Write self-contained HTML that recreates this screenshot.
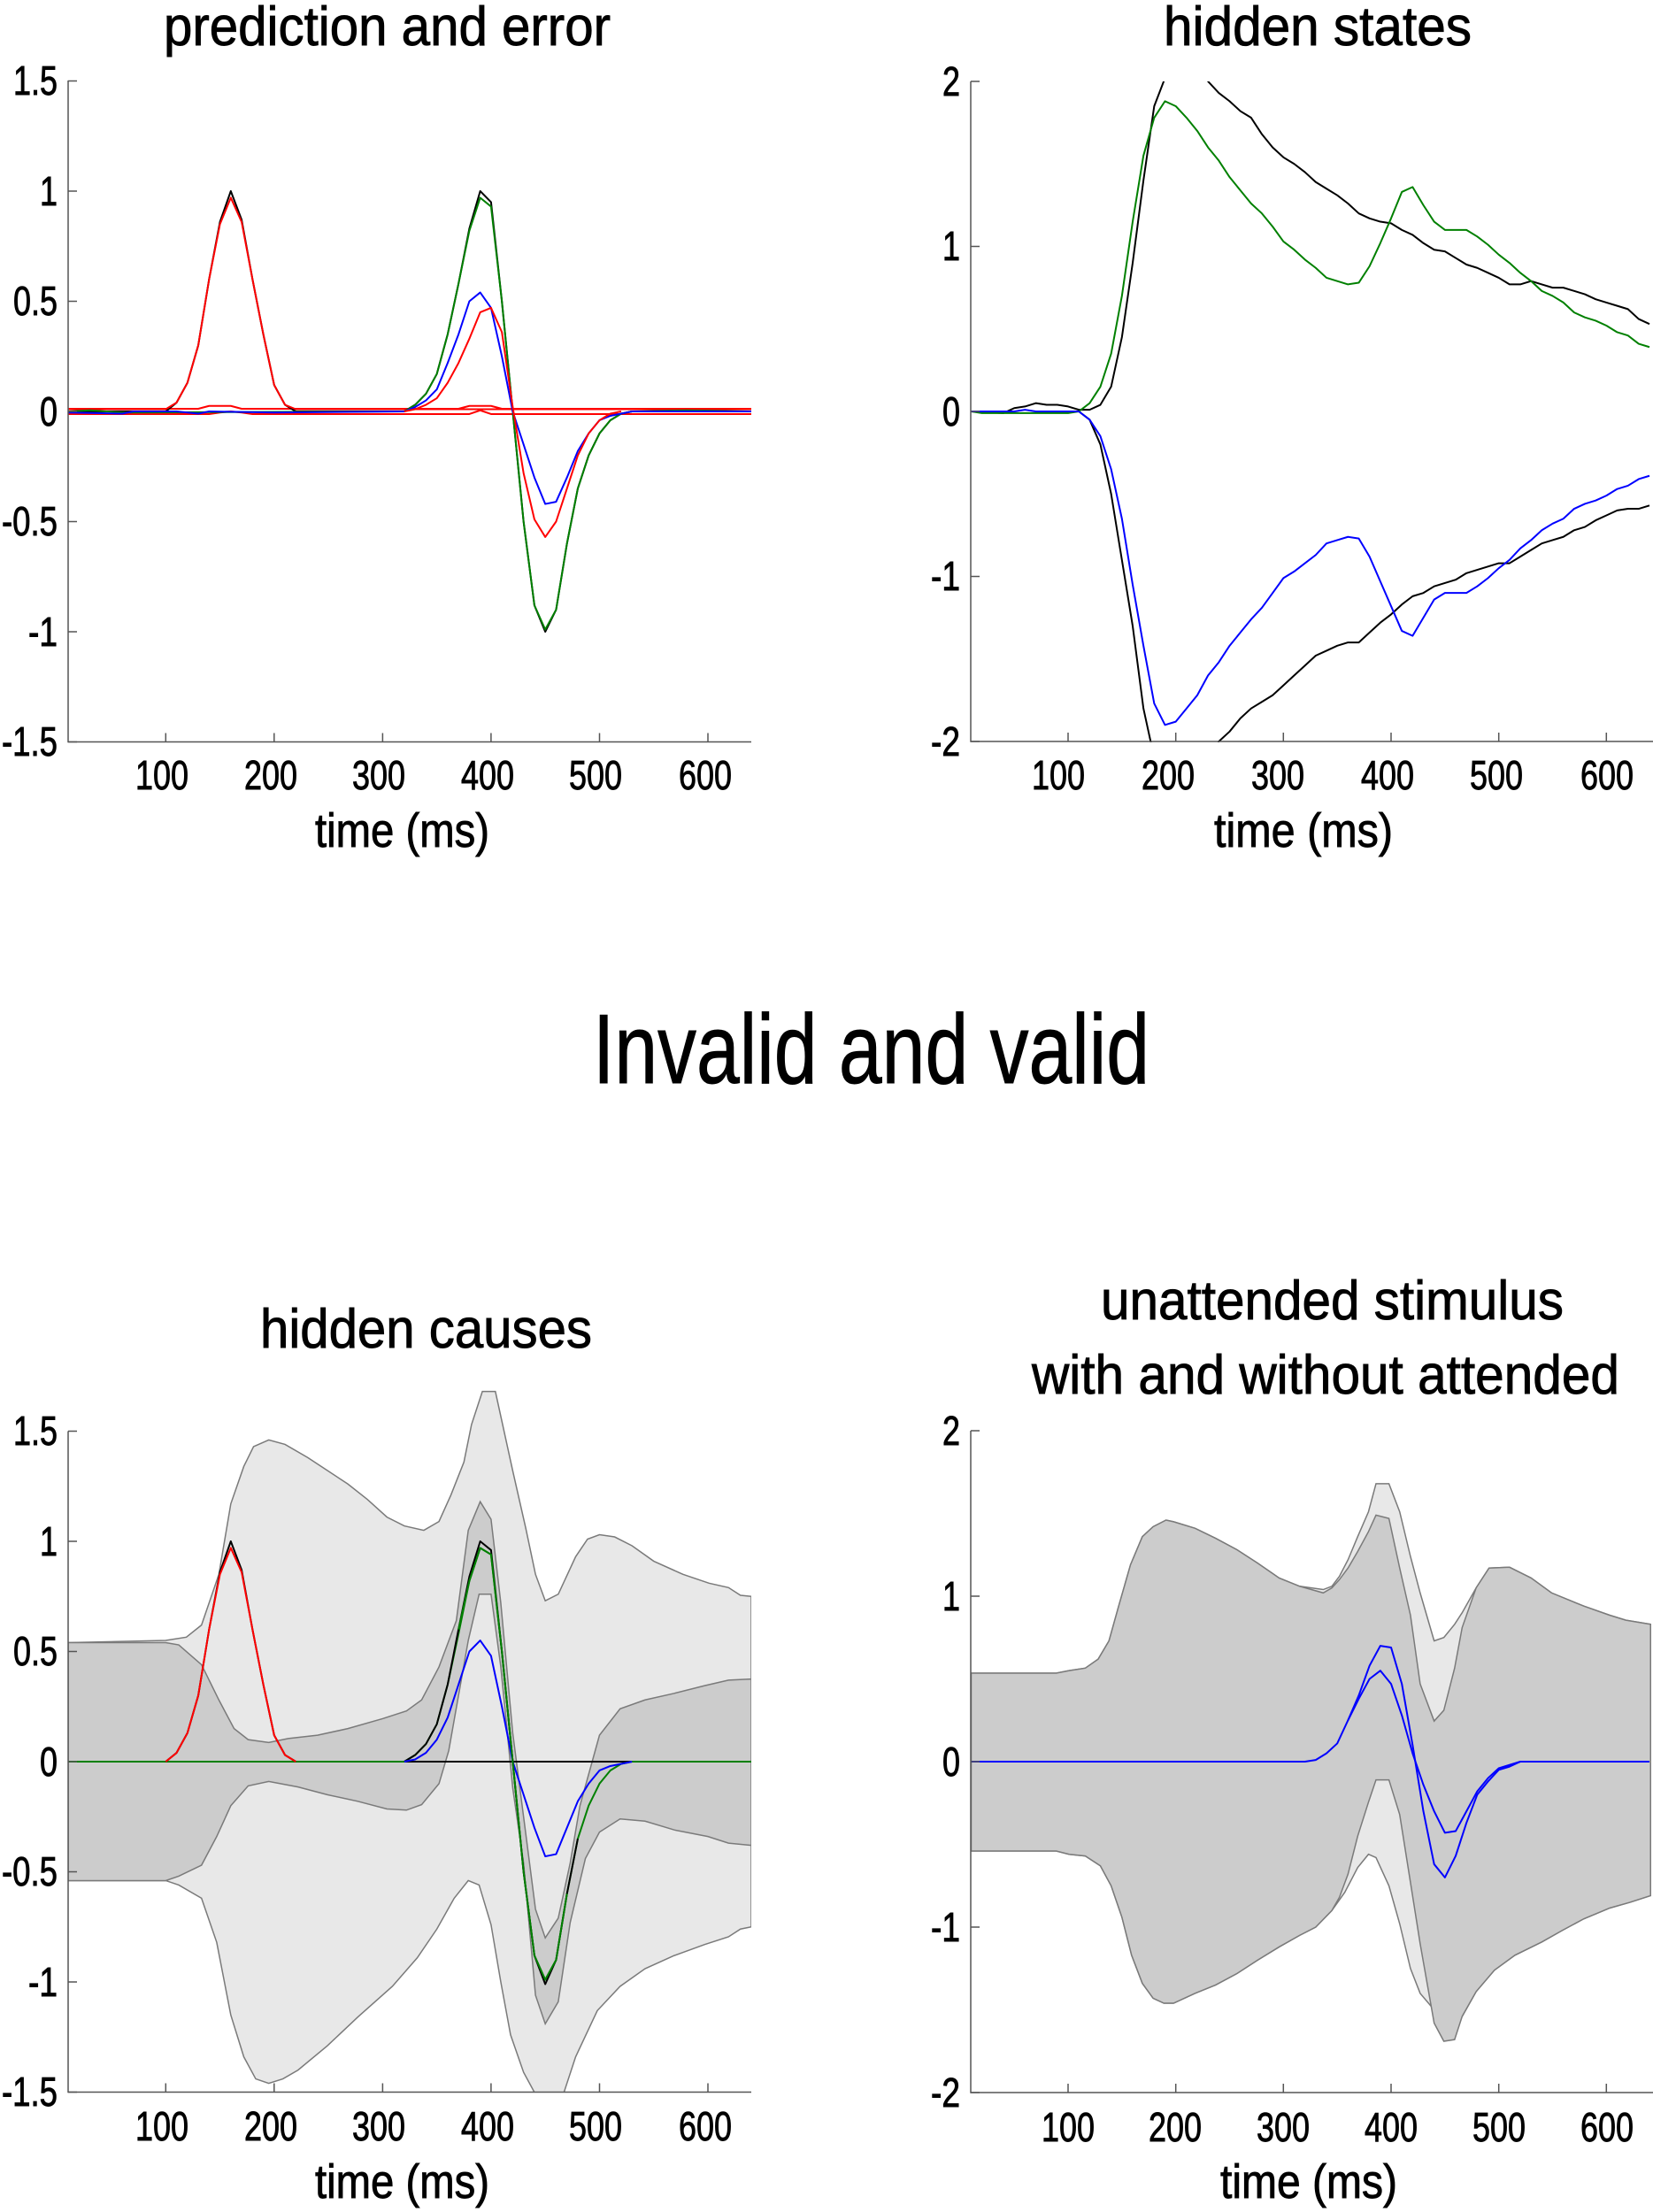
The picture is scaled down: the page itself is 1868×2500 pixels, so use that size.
<!DOCTYPE html>
<html><head><meta charset="utf-8"><style>
html,body{margin:0;padding:0;background:#fff}
svg{display:block}
text{font-family:"Liberation Sans",Arial,sans-serif;fill:#000;stroke:#000;stroke-width:0.9}
.ax{stroke:#555;stroke-width:1.5;fill:none}
.ln{fill:none;stroke-width:2;vector-effect:non-scaling-stroke;stroke-linejoin:round}
.bd{stroke:#7a7a7a;stroke-width:1.5;vector-effect:non-scaling-stroke}
</style></head><body>
<svg width="1868" height="2500" viewBox="0 0 1868 2500" xmlns="http://www.w3.org/2000/svg">
<defs>
<clipPath id="cTL"><rect x="77" y="91" width="772" height="748"/></clipPath>
<clipPath id="cTR"><rect x="1097" y="92" width="771" height="747"/></clipPath>
<clipPath id="cBL"><rect x="77" y="1540" width="772" height="825"/></clipPath>
<clipPath id="cBR"><rect x="1097" y="1617" width="771" height="748"/></clipPath>
</defs>

<text x="185" y="51" font-size="62" textLength="505" lengthAdjust="spacingAndGlyphs">prediction and error</text>
<text x="1315" y="51" font-size="62" textLength="348" lengthAdjust="spacingAndGlyphs">hidden states</text>
<text x="670" y="1224" font-size="111" textLength="629" lengthAdjust="spacingAndGlyphs">Invalid and valid</text>
<text x="294" y="1523" font-size="62" textLength="375" lengthAdjust="spacingAndGlyphs">hidden causes</text>
<text x="1244" y="1491" font-size="62" textLength="523" lengthAdjust="spacingAndGlyphs">unattended stimulus</text>
<text x="1166" y="1575" font-size="62" textLength="664" lengthAdjust="spacingAndGlyphs">with and without attended</text>

<g clip-path="url(#cTL)">
<g transform="matrix(1.2254 0 0 -249 64.75 465)">
<polyline class="ln" stroke="#ff0000" points="10,-0.012 140,-0.012 150,-0.005 160,0 170,-0.005 180,-0.012 380,-0.012 390,0.005 400,-0.012 640,-0.012"/>
<polyline class="ln" stroke="#ff0000" points="10,0.012 130,0.012 140,0.025 160,0.025 170,0.012 370,0.012 380,0.025 400,0.025 410,0.012 640,0.012"/>
<polyline class="ln" stroke="#000" points="10,0 100,0 110,0.04 120,0.13 130,0.3 140,0.6 150,0.86 160,1 170,0.87 180,0.6 190,0.35 200,0.12 210,0.03 220,0 320,0 330,0.03 340,0.08 350,0.17 360,0.35 370,0.58 380,0.83 390,1 400,0.95 410,0.5 420,0 430,-0.5 440,-0.88 450,-1 460,-0.9 470,-0.6 480,-0.35 490,-0.2 500,-0.1 510,-0.04 520,-0.01 530,0 640,0"/>
<polyline class="ln" stroke="#ff0000" points="10,0.01 100,0.01 110,0.04 120,0.13 130,0.3 140,0.6 150,0.85 160,0.97 170,0.86 180,0.6 190,0.35 200,0.12 210,0.03 220,0.01 640,0.01"/>
<polyline class="ln" stroke="#008000" points="10,0 30,0.005 60,-0.005 320,0 330,0.03 340,0.08 350,0.17 360,0.35 370,0.58 380,0.82 390,0.97 400,0.93 410,0.5 420,0 430,-0.5 440,-0.88 450,-0.99 460,-0.9 470,-0.6 480,-0.35 490,-0.2 500,-0.1 510,-0.04 520,-0.01 530,0 580,0.005 640,0"/>
<polyline class="ln" stroke="#0000ff" points="10,-0.005 60,-0.01 70,0 110,0 130,-0.01 140,0 200,-0.005 320,0 330,0.02 340,0.05 350,0.1 360,0.22 370,0.35 380,0.5 390,0.54 400,0.47 410,0.25 420,0 430,-0.15 440,-0.3 450,-0.42 460,-0.41 470,-0.3 480,-0.18 490,-0.1 500,-0.04 510,-0.02 520,-0.01 530,0 640,0"/>
<polyline class="ln" stroke="#ff0000" points="320,0 330,0.01 340,0.03 350,0.06 360,0.13 370,0.22 380,0.33 390,0.45 400,0.47 410,0.36 420,0.02 430,-0.28 440,-0.49 450,-0.57 460,-0.5 470,-0.35 480,-0.2 490,-0.1 500,-0.04 510,-0.01 520,0"/>
</g></g>
<path class="ax" d="M77,91 V838.5 H849"/>
<g class="ax">
<path d="M77,91.5h10M77,216h10M77,340.5h10M77,465h10M77,589.5h10M77,714h10M77,838.5h10"/>
<path d="M187.3,838.5v-10M309.8,838.5v-10M432.4,838.5v-10M554.9,838.5v-10M677.5,838.5v-10M800,838.5v-10"/>
</g>
<g font-size="46" text-anchor="end">
<text x="65" y="107" textLength="50" lengthAdjust="spacingAndGlyphs">1.5</text>
<text x="65" y="232" textLength="20" lengthAdjust="spacingAndGlyphs">1</text>
<text x="65" y="356" textLength="50" lengthAdjust="spacingAndGlyphs">0.5</text>
<text x="65" y="481" textLength="20" lengthAdjust="spacingAndGlyphs">0</text>
<text x="65" y="605" textLength="63" lengthAdjust="spacingAndGlyphs">-0.5</text>
<text x="65" y="730" textLength="33" lengthAdjust="spacingAndGlyphs">-1</text>
<text x="65" y="854" textLength="63" lengthAdjust="spacingAndGlyphs">-1.5</text>
</g>
<g font-size="46" text-anchor="middle">
<text x="183" y="892" textLength="60" lengthAdjust="spacingAndGlyphs">100</text>
<text x="306" y="892" textLength="60" lengthAdjust="spacingAndGlyphs">200</text>
<text x="428" y="892" textLength="60" lengthAdjust="spacingAndGlyphs">300</text>
<text x="551" y="892" textLength="60" lengthAdjust="spacingAndGlyphs">400</text>
<text x="673" y="892" textLength="60" lengthAdjust="spacingAndGlyphs">500</text>
<text x="797" y="892" textLength="60" lengthAdjust="spacingAndGlyphs">600</text>
</g>
<text x="356" y="957" font-size="54" textLength="197" lengthAdjust="spacingAndGlyphs">time (ms)</text>

<g clip-path="url(#cTR)">
<g transform="matrix(1.2167 0 0 -186.5 1085.33 465)">
<polyline class="ln" stroke="#000" points="10,0 40,-0.01 50,0.02 60,0.03 70,0.05 80,0.04 90,0.04 100,0.03 110,0.01 120,0.01 130,0.04 140,0.15 150,0.45 160,0.9 170,1.4 180,1.85 190,2.02 200,2.2 210,2.25 220,2.15 230,2.0 240,1.93 250,1.88 260,1.82 270,1.78 280,1.68 290,1.6 300,1.54 310,1.5 320,1.45 330,1.39 340,1.35 350,1.31 360,1.26 370,1.2 380,1.17 390,1.15 400,1.14 410,1.1 420,1.07 430,1.02 440,0.98 450,0.97 460,0.93 470,0.89 480,0.87 490,0.84 500,0.81 510,0.77 520,0.77 530,0.79 540,0.77 550,0.75 560,0.75 570,0.73 580,0.71 590,0.68 600,0.66 610,0.64 620,0.62 630,0.56 640,0.53"/>
<polyline class="ln" stroke="#000" points="110,0 120,-0.05 130,-0.2 140,-0.5 150,-0.9 160,-1.3 170,-1.8 180,-2.1 200,-2.4 230,-2.2 240,-2.0 250,-1.94 260,-1.86 270,-1.8 280,-1.76 290,-1.72 300,-1.66 310,-1.6 320,-1.54 330,-1.48 340,-1.45 350,-1.42 360,-1.4 370,-1.4 380,-1.34 390,-1.28 400,-1.23 410,-1.17 420,-1.12 430,-1.1 440,-1.06 450,-1.04 460,-1.02 470,-0.98 480,-0.96 490,-0.94 500,-0.92 510,-0.92 520,-0.88 530,-0.84 540,-0.8 550,-0.78 560,-0.76 570,-0.72 580,-0.7 590,-0.66 600,-0.63 610,-0.6 620,-0.59 630,-0.59 640,-0.57"/>
<polyline class="ln" stroke="#008000" points="10,0 20,-0.01 100,-0.01 110,0 120,0.05 130,0.15 140,0.35 150,0.7 160,1.15 170,1.55 180,1.78 190,1.88 200,1.85 210,1.78 220,1.7 230,1.6 240,1.52 250,1.42 260,1.34 270,1.26 280,1.2 290,1.12 300,1.03 310,0.98 320,0.92 330,0.87 340,0.81 350,0.79 360,0.77 370,0.78 380,0.88 390,1.02 400,1.17 410,1.33 420,1.36 430,1.25 440,1.15 450,1.1 460,1.1 470,1.1 480,1.06 490,1.01 500,0.95 510,0.9 520,0.84 530,0.79 540,0.73 550,0.7 560,0.66 570,0.6 580,0.57 590,0.55 600,0.52 610,0.48 620,0.46 630,0.41 640,0.39"/>
<polyline class="ln" stroke="#0000ff" points="10,0 50,0 60,0.01 70,0 110,0 120,-0.05 130,-0.15 140,-0.35 150,-0.65 160,-1.05 170,-1.42 180,-1.77 190,-1.9 200,-1.88 210,-1.8 220,-1.72 230,-1.6 240,-1.52 250,-1.42 260,-1.34 270,-1.26 280,-1.19 290,-1.1 300,-1.01 310,-0.97 320,-0.92 330,-0.87 340,-0.8 350,-0.78 360,-0.76 370,-0.77 380,-0.88 390,-1.03 400,-1.18 410,-1.33 420,-1.36 430,-1.25 440,-1.14 450,-1.1 460,-1.1 470,-1.1 480,-1.06 490,-1.01 500,-0.95 510,-0.9 520,-0.83 530,-0.78 540,-0.72 550,-0.68 560,-0.65 570,-0.59 580,-0.56 590,-0.54 600,-0.51 610,-0.47 620,-0.45 630,-0.41 640,-0.39"/>
</g></g>
<path class="ax" d="M1097,92 V838 H1868"/>
<g class="ax">
<path d="M1097,92h10M1097,278.5h10M1097,465h10M1097,651.5h10M1097,838h10"/>
<path d="M1207,838v-10M1328.7,838v-10M1450.3,838v-10M1572,838v-10M1693.7,838v-10M1815.3,838v-10"/>
</g>
<g font-size="46" text-anchor="end">
<text x="1085" y="108" textLength="20" lengthAdjust="spacingAndGlyphs">2</text>
<text x="1085" y="294" textLength="20" lengthAdjust="spacingAndGlyphs">1</text>
<text x="1085" y="481" textLength="20" lengthAdjust="spacingAndGlyphs">0</text>
<text x="1085" y="667" textLength="33" lengthAdjust="spacingAndGlyphs">-1</text>
<text x="1085" y="854" textLength="33" lengthAdjust="spacingAndGlyphs">-2</text>
</g>
<g font-size="46" text-anchor="middle">
<text x="1196" y="892" textLength="60" lengthAdjust="spacingAndGlyphs">100</text>
<text x="1320" y="892" textLength="60" lengthAdjust="spacingAndGlyphs">200</text>
<text x="1444" y="892" textLength="60" lengthAdjust="spacingAndGlyphs">300</text>
<text x="1568" y="892" textLength="60" lengthAdjust="spacingAndGlyphs">400</text>
<text x="1691" y="892" textLength="60" lengthAdjust="spacingAndGlyphs">500</text>
<text x="1816" y="892" textLength="60" lengthAdjust="spacingAndGlyphs">600</text>
</g>
<text x="1372" y="957" font-size="54" textLength="202" lengthAdjust="spacingAndGlyphs">time (ms)</text>

<g clip-path="url(#cBL)">
<g transform="matrix(1.2254 0 0 -249 64.75 1991)">
<polygon class="bd" fill="#e8e8e8" points="10,0.54 100,0.55 119,0.565 133,0.62 149,0.85 160,1.17 172,1.34 181,1.43 195,1.46 210,1.44 231,1.38 268,1.26 286,1.19 304,1.11 320,1.07 338,1.05 352,1.09 363,1.21 375,1.36 382,1.53 392,1.68 404,1.68 420,1.32 432,1.06 441,0.85 450,0.73 462,0.76 478,0.93 489,1.01 500,1.03 514,1.02 530,0.98 550,0.91 577,0.85 601,0.81 619,0.79 630,0.755 640,0.75 640,-0.75 630,-0.76 619,-0.795 597,-0.83 569,-0.88 542,-0.94 519,-1.02 498,-1.13 478,-1.34 462,-1.58 450,-1.6 441,-1.51 430,-1.41 418,-1.24 409,-1.0 400,-0.74 389,-0.56 379,-0.54 366,-0.62 350,-0.76 332,-0.89 309,-1.02 277,-1.16 249,-1.29 222,-1.4 208,-1.44 195,-1.46 183,-1.44 172,-1.34 160,-1.15 147,-0.82 133,-0.62 112,-0.56 100,-0.54 10,-0.54"/>
<polygon class="bd" fill="#cccccc" points="10,0.54 100,0.54 112,0.53 133,0.44 149,0.28 163,0.15 176,0.1 195,0.087 213,0.105 240,0.12 268,0.15 300,0.195 322,0.23 336,0.28 352,0.43 368,0.64 379,1.05 390,1.18 400,1.1 409,0.72 420,0.13 430,-0.25 441,-0.67 450,-0.8 462,-0.71 473,-0.46 482,-0.2 500,0.12 519,0.24 542,0.28 569,0.31 597,0.345 619,0.37 640,0.375 640,-0.38 619,-0.37 600,-0.34 569,-0.31 542,-0.27 519,-0.26 500,-0.32 487,-0.44 473,-0.73 462,-1.09 450,-1.19 441,-1.06 430,-0.46 420,-0.12 409,0.43 400,0.76 389,0.76 379,0.55 370,0.3 361,0.05 352,-0.1 336,-0.195 322,-0.22 304,-0.215 277,-0.18 249,-0.15 222,-0.115 195,-0.09 176,-0.11 160,-0.2 147,-0.34 133,-0.47 112,-0.52 100,-0.54 10,-0.54"/>
<polyline class="ln" stroke="#000" points="10,0 640,0"/>
<polyline class="ln" stroke="#008000" points="10,0 320,0 330,0.03 340,0.08 350,0.17 360,0.35 370,0.58 380,0.82 390,0.97 400,0.94 410,0.5 420,0 430,-0.5 440,-0.88 450,-0.99 460,-0.9 470,-0.6 480,-0.35 490,-0.2 500,-0.1 510,-0.04 520,-0.01 530,0 640,0"/>
<polyline class="ln" stroke="#000" points="100,0 110,0.04 120,0.13 130,0.3 140,0.6 150,0.86 160,1 170,0.87 180,0.6 190,0.35 200,0.12 210,0.03 220,0"/>
<polyline class="ln" stroke="#ff0000" points="100,0 110,0.04 120,0.13 130,0.3 140,0.6 150,0.85 160,0.97 170,0.86 180,0.6 190,0.35 200,0.12 210,0.03 220,0"/>
<polyline class="ln" stroke="#000" points="320,0 330,0.03 340,0.08 350,0.17 360,0.35 370,0.6 380,0.84 390,1 400,0.96 410,0.5 420,0 430,-0.5 440,-0.88 450,-1.01 460,-0.9 470,-0.6 480,-0.35"/>
<polyline class="ln" stroke="#0000ff" points="320,0 330,0.01 340,0.04 350,0.1 360,0.2 370,0.35 380,0.5 390,0.55 400,0.48 410,0.25 420,0 430,-0.15 440,-0.3 450,-0.43 460,-0.42 470,-0.3 480,-0.18 490,-0.1 500,-0.04 510,-0.02 520,-0.01 530,0"/>
<polyline class="ln" stroke="#008000" points="370,0.6 380,0.82 390,0.97 400,0.94 410,0.5 420,0 430,-0.5 440,-0.88 450,-0.99 460,-0.9 470,-0.6"/>
</g></g>
<path class="ax" d="M77,1617.5 V2364.5 H849"/>
<g class="ax">
<path d="M77,1617.5h10M77,1742h10M77,1866.5h10M77,1991h10M77,2115.5h10M77,2240h10M77,2364.5h10"/>
<path d="M187.3,2364.5v-10M309.8,2364.5v-10M432.4,2364.5v-10M554.9,2364.5v-10M677.5,2364.5v-10M800,2364.5v-10"/>
</g>
<g font-size="46" text-anchor="end">
<text x="65" y="1633" textLength="50" lengthAdjust="spacingAndGlyphs">1.5</text>
<text x="65" y="1758" textLength="20" lengthAdjust="spacingAndGlyphs">1</text>
<text x="65" y="1882" textLength="50" lengthAdjust="spacingAndGlyphs">0.5</text>
<text x="65" y="2007" textLength="20" lengthAdjust="spacingAndGlyphs">0</text>
<text x="65" y="2131" textLength="63" lengthAdjust="spacingAndGlyphs">-0.5</text>
<text x="65" y="2256" textLength="33" lengthAdjust="spacingAndGlyphs">-1</text>
<text x="65" y="2380" textLength="63" lengthAdjust="spacingAndGlyphs">-1.5</text>
</g>
<g font-size="46" text-anchor="middle">
<text x="183" y="2419" textLength="60" lengthAdjust="spacingAndGlyphs">100</text>
<text x="306" y="2419" textLength="60" lengthAdjust="spacingAndGlyphs">200</text>
<text x="428" y="2419" textLength="60" lengthAdjust="spacingAndGlyphs">300</text>
<text x="551" y="2419" textLength="60" lengthAdjust="spacingAndGlyphs">400</text>
<text x="673" y="2419" textLength="60" lengthAdjust="spacingAndGlyphs">500</text>
<text x="797" y="2419" textLength="60" lengthAdjust="spacingAndGlyphs">600</text>
</g>
<text x="356" y="2484" font-size="54" textLength="197" lengthAdjust="spacingAndGlyphs">time (ms)</text>

<g clip-path="url(#cBR)">
<g transform="matrix(1.2167 0 0 -187 1085.33 1991)">
<polygon class="bd" fill="#e8e8e8" points="10,0.535 89,0.535 101,0.55 116,0.565 128,0.62 138,0.73 147,0.94 158,1.19 169,1.36 179,1.42 191,1.46 198,1.45 218,1.41 237,1.35 257,1.28 276,1.2 296,1.11 315,1.06 337,1.04 345,1.06 352,1.12 360,1.22 369,1.36 379,1.51 386,1.68 398,1.68 408,1.51 418,1.24 427,1.02 440,0.73 449,0.75 459,0.83 466,0.9 479,1.05 491,1.17 510,1.175 530,1.11 549,1.02 579,0.94 603,0.885 618,0.855 641,0.83 641,-0.81 622,-0.85 603,-0.885 579,-0.95 559,-1.02 540,-1.09 515,-1.17 496,-1.26 479,-1.39 466,-1.54 459,-1.58 449,-1.56 440,-1.5 427,-1.4 418,-1.25 408,-0.98 398,-0.75 386,-0.58 379,-0.56 369,-0.64 357,-0.79 345,-0.9 330,-1.0 315,-1.05 296,-1.12 276,-1.2 257,-1.28 237,-1.35 218,-1.4 198,-1.46 189,-1.46 179,-1.43 169,-1.34 159,-1.17 150,-0.94 140,-0.75 130,-0.63 116,-0.57 101,-0.56 89,-0.54 10,-0.54"/>
<polygon class="bd" fill="#cccccc" points="10,0.535 89,0.535 101,0.55 116,0.565 128,0.62 138,0.73 147,0.94 158,1.19 169,1.36 179,1.42 191,1.46 198,1.45 218,1.41 237,1.35 257,1.28 276,1.2 296,1.11 315,1.06 337,1.02 345,1.05 352,1.1 360,1.17 369,1.27 379,1.39 386,1.49 398,1.47 408,1.17 418,0.885 427,0.47 440,0.245 449,0.31 459,0.565 466,0.81 479,1.05 491,1.17 510,1.175 530,1.11 549,1.02 579,0.94 603,0.885 618,0.855 641,0.83 641,-0.81 622,-0.85 603,-0.885 579,-0.95 559,-1.02 540,-1.09 515,-1.17 496,-1.26 479,-1.39 466,-1.54 459,-1.68 449,-1.69 440,-1.58 427,-1.1 418,-0.73 408,-0.32 398,-0.11 386,-0.11 379,-0.245 369,-0.45 360,-0.68 352,-0.82 345,-0.9 330,-1.0 315,-1.05 296,-1.12 276,-1.2 257,-1.28 237,-1.35 218,-1.4 198,-1.46 189,-1.46 179,-1.43 169,-1.34 159,-1.17 150,-0.94 140,-0.75 130,-0.63 116,-0.57 101,-0.56 89,-0.54 10,-0.54"/>
<polyline class="ln" stroke="#0000ff" points="10,0 320,0 330,0.01 340,0.05 350,0.11 360,0.25 370,0.4 380,0.58 390,0.7 400,0.69 410,0.47 420,0.1 430,-0.3 440,-0.62 450,-0.7 460,-0.57 470,-0.37 480,-0.2 490,-0.12 500,-0.05 510,-0.03 520,0 640,0"/>
<polyline class="ln" stroke="#0000ff" points="360,0.25 370,0.38 380,0.5 390,0.55 400,0.47 410,0.28 420,0.05 430,-0.14 440,-0.3 450,-0.43 460,-0.42 470,-0.3 480,-0.18 490,-0.1 500,-0.04 510,-0.02 520,0"/>
</g></g>
<path class="ax" d="M1097,1617 V2365 H1868"/>
<g class="ax">
<path d="M1097,1617h10M1097,1804h10M1097,1991h10M1097,2178h10M1097,2365h10"/>
<path d="M1207,2365v-10M1328.7,2365v-10M1450.3,2365v-10M1572,2365v-10M1693.7,2365v-10M1815.3,2365v-10"/>
</g>
<g font-size="46" text-anchor="end">
<text x="1085" y="1633" textLength="20" lengthAdjust="spacingAndGlyphs">2</text>
<text x="1085" y="1820" textLength="20" lengthAdjust="spacingAndGlyphs">1</text>
<text x="1085" y="2007" textLength="20" lengthAdjust="spacingAndGlyphs">0</text>
<text x="1085" y="2194" textLength="33" lengthAdjust="spacingAndGlyphs">-1</text>
<text x="1085" y="2381" textLength="33" lengthAdjust="spacingAndGlyphs">-2</text>
</g>
<g font-size="46" text-anchor="middle">
<text x="1207" y="2420" textLength="60" lengthAdjust="spacingAndGlyphs">100</text>
<text x="1328" y="2420" textLength="60" lengthAdjust="spacingAndGlyphs">200</text>
<text x="1450" y="2420" textLength="60" lengthAdjust="spacingAndGlyphs">300</text>
<text x="1572" y="2420" textLength="60" lengthAdjust="spacingAndGlyphs">400</text>
<text x="1694" y="2420" textLength="60" lengthAdjust="spacingAndGlyphs">500</text>
<text x="1816" y="2420" textLength="60" lengthAdjust="spacingAndGlyphs">600</text>
</g>
<text x="1379" y="2484" font-size="54" textLength="200" lengthAdjust="spacingAndGlyphs">time (ms)</text>
</svg>
</body></html>
